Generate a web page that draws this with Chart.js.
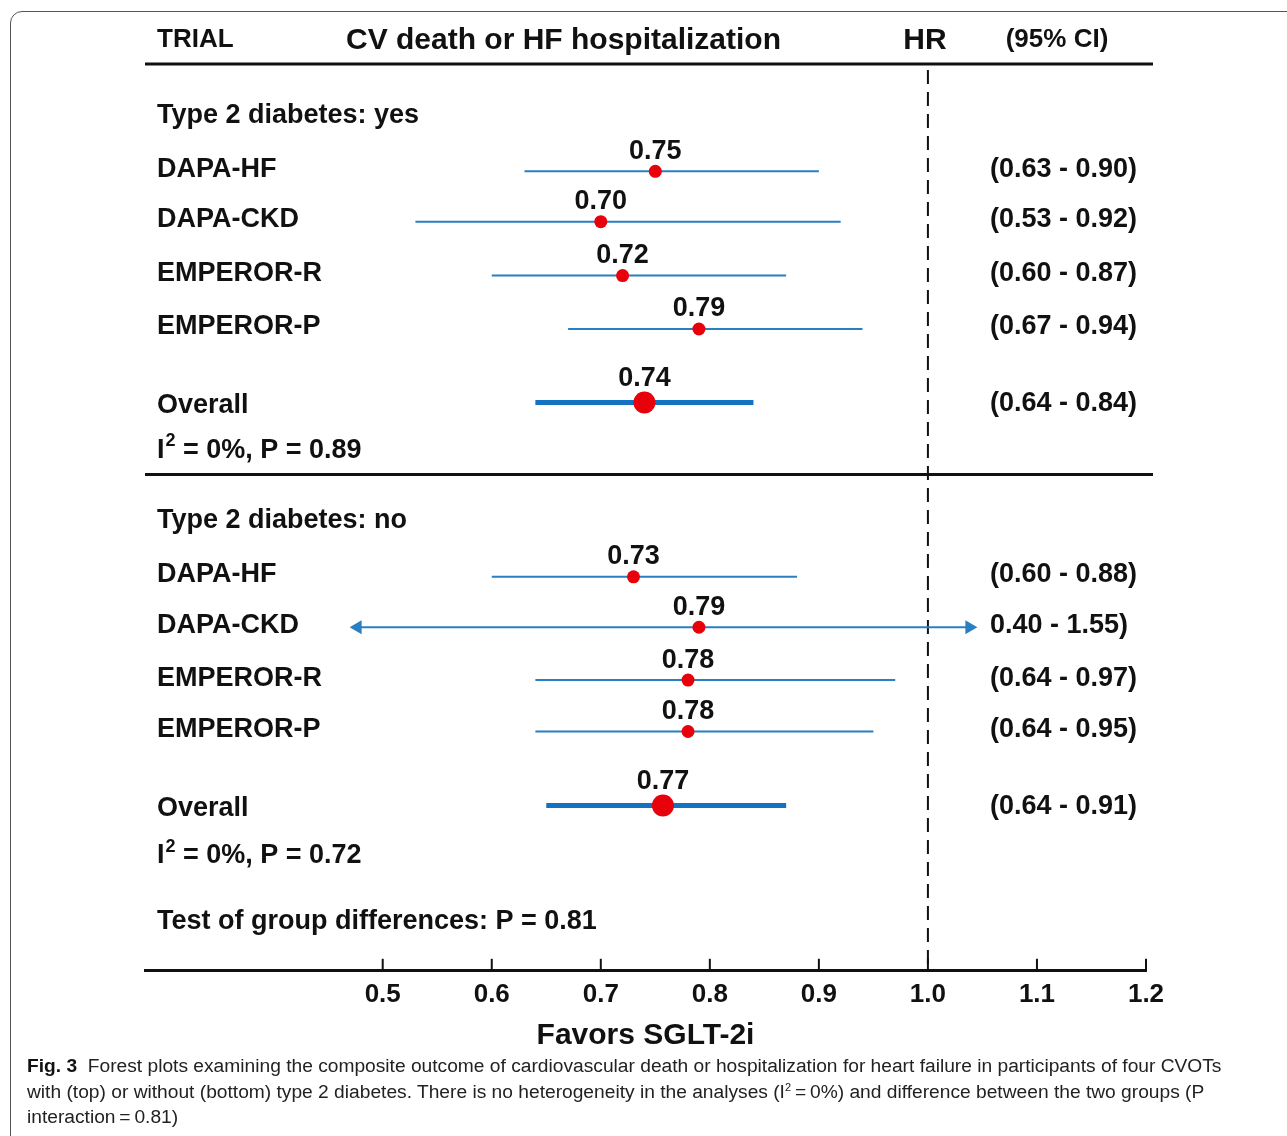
<!DOCTYPE html>
<html>
<head>
<meta charset="utf-8">
<script src="https://cdn.jsdelivr.net/npm/chart.js@4"></script>
<style>
  body { margin: 0; background: #fff; }
  #wrap { position: relative; width: 1287px; height: 1136px; overflow: hidden; }
  #frame { position: absolute; left: 10px; top: 11px; width: 1300px; height: 1140px;
           border: 1px solid #555; border-radius: 12px; box-sizing: border-box; }
  #chart { position: absolute; left: 0; top: 0; }
  #caption { position: absolute; left: 27px; top: 1053px; width: 1250px;
             font-family: "Liberation Sans", Arial, sans-serif; font-size: 19.2px;
             line-height: 25.5px; color: #222; white-space: nowrap; }
  #caption b { color: #111; }
  #caption sup { font-size: 11px; line-height: 0; vertical-align: 7px; }
</style>
</head>
<body>
<div id="wrap">
  <div id="frame"></div>
  <canvas id="chart" width="1287" height="1136"></canvas>
  <div id="caption">
    <b>Fig. 3</b>&nbsp; Forest plots examining the composite outcome of cardiovascular death or hospitalization for heart failure in participants of four CVOTs<br>
    with (top) or without (bottom) type 2 diabetes. There is no heterogeneity in the analyses (I<sup>2</sup>&thinsp;=&thinsp;0%) and difference between the two groups (P<br>
    interaction&thinsp;=&thinsp;0.81)
  </div>
</div>
<script>
// rows of each group
const rowNames = ['DAPA-HF', 'DAPA-CKD', 'EMPEROR-R', 'EMPEROR-P', 'Overall'];

// Type 2 diabetes: yes
const hrYes = [0.75, 0.70, 0.72, 0.79, 0.74];
const loYes = [0.63, 0.53, 0.60, 0.67, 0.64];
const hiYes = [0.90, 0.92, 0.87, 0.94, 0.84];
const hrTextYes = ['0.75', '0.70', '0.72', '0.79', '0.74'];
const ciTextYes = ['(0.63 - 0.90)', '(0.53 - 0.92)', '(0.60 - 0.87)', '(0.67 - 0.94)', '(0.64 - 0.84)'];

// Type 2 diabetes: no (overall marker drawn a bit left of its label in the figure)
const hrNo = [0.73, 0.79, 0.78, 0.78, 0.757];
const loNo = [0.60, 0.40, 0.64, 0.64, 0.65];
const hiNo = [0.88, 1.55, 0.97, 0.95, 0.87];
const hrTextNo = ['0.73', '0.79', '0.78', '0.78', '0.77'];
const ciTextNo = ['(0.60 - 0.88)', '0.40 - 1.55)', '(0.64 - 0.97)', '(0.64 - 0.95)', '(0.64 - 0.91)'];

// CI lines outside this window are cut and drawn with arrowheads
const clipLo = 0.477;
const clipHi = 1.038;

const xTicks = [0.5, 0.6, 0.7, 0.8, 0.9, 1.0, 1.1, 1.2];

// vertical slot (in row units, top = 0) of each line of the plot
const rowPosYes = [2.13, 3.13, 4.2, 5.26, 6.72];
const rowPosNo = [10.18, 11.18, 12.23, 13.25, 14.72];
const headYes = 1.02, hetYes = 7.67, divider = 8.15;
const headNo = 9.06, hetNo = 15.72, testRow = 17.03;

const hetTextYes = ' = 0%, P = 0.89';
const hetTextNo = ' = 0%, P = 0.72';
const testText = 'Test of group differences: P = 0.81';

const FONT = '"Liberation Sans", Arial, sans-serif';
const blueThin = '#2b7fc0';
const blueThick = '#1472c2';
const red = '#e8000b';

function buildDatasets(hr, lo, hi, pos) {
    const sets = [];
    hr.forEach((v, i) => {
        const overall = i === hr.length - 1;
        const a = Math.max(lo[i], clipLo);
        const b = Math.min(hi[i], clipHi);
        const arrowL = lo[i] < clipLo, arrowR = hi[i] > clipHi;
        sets.push({
            type: 'line',
            data: [{ x: a, y: pos[i] }, { x: b, y: pos[i] }],
            borderColor: overall ? blueThick : blueThin,
            backgroundColor: overall ? blueThick : blueThin,
            borderWidth: overall ? 5 : 2,
            pointStyle: 'triangle',
            pointRadius: [arrowL ? 8 : 0, arrowR ? 8 : 0],
            pointRotation: [-90, 90],
            pointBorderWidth: 0,
            order: 2
        });
    });
    sets.push({
        type: 'scatter',
        data: hr.map((v, i) => ({ x: v, y: pos[i] })),
        backgroundColor: red,
        borderColor: red,
        pointRadius: hr.map((v, i) => i === hr.length - 1 ? 11 : 6.5),
        pointBorderWidth: 0,
        order: 1
    });
    return sets;
}

const datasets = [
    ...buildDatasets(hrYes, loYes, hiYes, rowPosYes),
    ...buildDatasets(hrNo, loNo, hiNo, rowPosNo)
];

const forestText = {
    id: 'forestText',
    beforeDatasetsDraw(chart) {
        const { ctx, chartArea: ca, scales: { x, y } } = chart;
        ctx.save();
        // dashed reference line at HR = 1
        ctx.strokeStyle = '#111';
        ctx.lineWidth = 2;
        ctx.setLineDash([14, 8]);
        ctx.beginPath();
        ctx.moveTo(x.getPixelForValue(1), ca.top + 6);
        ctx.lineTo(x.getPixelForValue(1), ca.bottom);
        ctx.stroke();
        ctx.setLineDash([]);

        // header rule and group divider
        ctx.lineWidth = 3;
        ctx.beginPath();
        ctx.moveTo(ca.left, ca.top);
        ctx.lineTo(ca.right + 7, ca.top);
        ctx.moveTo(ca.left, y.getPixelForValue(divider));
        ctx.lineTo(ca.right + 7, y.getPixelForValue(divider));
        ctx.stroke();

        // upward ticks on the x axis
        ctx.lineWidth = 2;
        xTicks.forEach(t => {
            const px = x.getPixelForValue(t);
            ctx.beginPath();
            ctx.moveTo(px, ca.bottom);
            ctx.lineTo(px, ca.bottom - 12);
            ctx.stroke();
        });
        ctx.restore();
    },
    afterDatasetsDraw(chart) {
        const { ctx, chartArea: ca, scales: { x, y } } = chart;
        const leftX = ca.left + 12;
        const ciX = 990;
        ctx.save();
        ctx.fillStyle = '#111';
        ctx.textBaseline = 'middle';

        // header
        ctx.font = 'bold 26px ' + FONT;
        ctx.textAlign = 'left';
        ctx.fillText('TRIAL', leftX, ca.top - 24);
        ctx.font = 'bold 30px ' + FONT;
        ctx.fillText('CV death or HF hospitalization', 346, ca.top - 23);
        ctx.textAlign = 'center';
        ctx.fillText('HR', x.getPixelForValue(1) - 3, ca.top - 23);
        ctx.font = 'bold 26px ' + FONT;
        ctx.fillText('(95% CI)', 1057, ca.top - 24);

        function group(title, head, pos, hrText, ciText, hr, het, hetText) {
            ctx.textAlign = 'left';
            ctx.font = 'bold 27px ' + FONT;
            ctx.fillText(title, leftX, y.getPixelForValue(head));
            rowNames.forEach((name, i) => {
                const py = y.getPixelForValue(pos[i]);
                const overall = i === rowNames.length - 1;
                ctx.textAlign = 'left';
                ctx.fillText(name, leftX, py + (overall ? 3 : -2));
                ctx.fillText(ciText[i], ciX, py + (overall ? 1 : -2));
                ctx.textAlign = 'center';
                ctx.fillText(hrText[i], x.getPixelForValue(hr[i]), py - (overall ? 24 : 20));
            });
            // I² line
            const hy = y.getPixelForValue(het);
            ctx.textAlign = 'left';
            ctx.fillText('I', leftX, hy);
            const iw = ctx.measureText('I').width;
            ctx.font = 'bold 18px ' + FONT;
            ctx.fillText('2', leftX + iw + 1, hy - 9);
            const sw = ctx.measureText('2').width;
            ctx.font = 'bold 27px ' + FONT;
            ctx.fillText(hetText, leftX + iw + sw + 1, hy);
        }

        group('Type 2 diabetes: yes', headYes, rowPosYes, hrTextYes, ciTextYes, hrYes, hetYes, hetTextYes);
        group('Type 2 diabetes: no', headNo, rowPosNo, hrTextNo, ciTextNo, hrNo, hetNo, hetTextNo);

        ctx.textAlign = 'left';
        ctx.fillText(testText, leftX, y.getPixelForValue(testRow));
        ctx.restore();
    }
};

new Chart(document.getElementById('chart'), {
    type: 'scatter',
    data: { datasets: datasets },
    options: {
        responsive: false,
        animation: false,
        layout: { padding: { left: 145, right: 141, top: 64, bottom: 82 } },
        plugins: { legend: { display: false }, tooltip: { enabled: false } },
        scales: {
            x: {
                type: 'linear',
                min: 0.282,
                max: 1.2,
                afterBuildTicks: scale => { scale.ticks = xTicks.map(v => ({ value: v })); },
                grid: { display: false, drawTicks: false },
                border: { display: true, color: '#111', width: 3 },
                ticks: {
                    color: '#111',
                    padding: 8,
                    maxRotation: 0,
                    font: { family: FONT, size: 26, weight: 'bold' },
                    callback: v => Number(v).toFixed(1)
                },
                title: {
                    display: true,
                    text: 'Favors SGLT-2i',
                    color: '#111',
                    padding: { top: 0, bottom: 0 },
                    font: { family: FONT, size: 30, weight: 'bold' }
                }
            },
            y: {
                type: 'linear',
                display: false,
                reverse: true,
                min: 0,
                max: 18
            }
        }
    },
    plugins: [forestText]
});
</script>
</body>
</html>
